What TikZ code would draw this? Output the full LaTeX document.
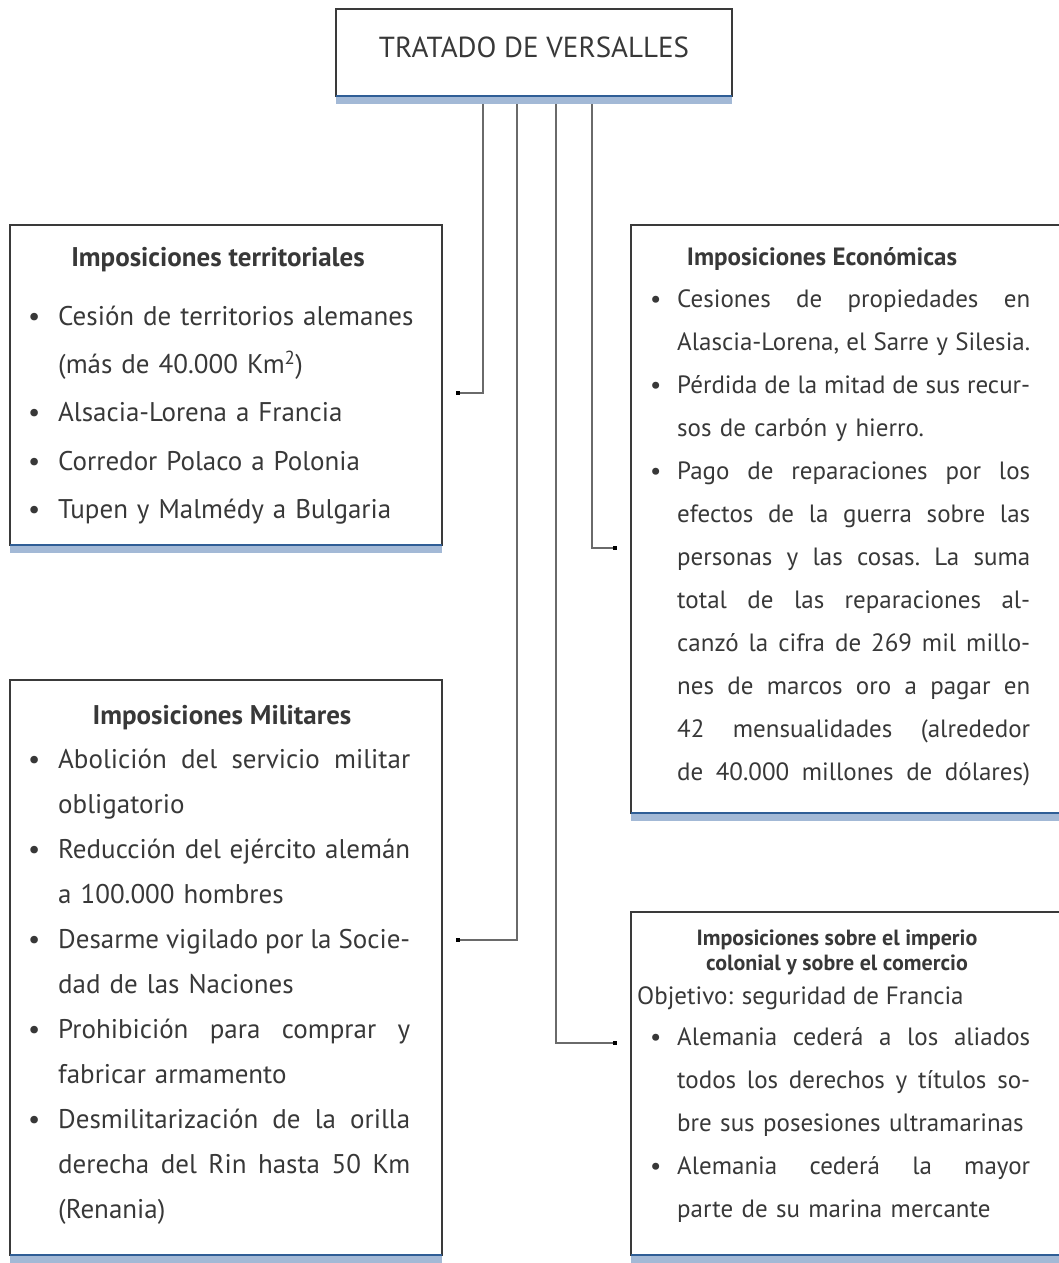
\documentclass[tikz,border=0pt]{standalone}
\usepackage{fontspec}
\setmainfont{PT Sans}
\usetikzlibrary{arrows.meta}
\definecolor{txt}{HTML}{383838}
\definecolor{edge}{HTML}{3A3A3A}
\definecolor{shade}{HTML}{A3B9D6}
\definecolor{bline}{HTML}{2F5E96}
\definecolor{conc}{HTML}{6A6A6A}
\newlength\bind
\newlength\cw
\newcommand\jsp{\spaceskip=\fontdimen2\font plus 1fil minus .12em\relax\xspaceskip=\spaceskip}
\newcommand\bj[1]{\hbox to\cw{\jsp\strut\makebox[\bind][l]{\textbullet}#1}}
\newcommand\bn[1]{\hbox to\cw{\strut\makebox[\bind][l]{\textbullet}#1\hfil}}
\newcommand\cj[1]{\hbox to\cw{\jsp\strut\hskip\bind #1}}
\newcommand\cn[1]{\hbox to\cw{\strut\hskip\bind #1\hfil}}
\newcommand\leftcol{\setlength\cw{382pt}\setlength\bind{30pt}\frenchspacing}
\newcommand\rightcol{\setlength\cw{380pt}\setlength\bind{27pt}\frenchspacing}
\tikzset{
  box/.style={draw=edge, line width=1.2pt, inner sep=0pt, outer sep=0pt, anchor=north west},
  shadeband/.style={fill=shade},
  bluerule/.style={draw=bline, line width=1.2pt},
  bodyT/.style={anchor=north west, inner sep=0pt, text=txt, text width=382pt, font={\fontsize{27}{48.3}\selectfont}},
  bodyM/.style={anchor=north west, inner sep=0pt, text=txt, text width=382pt, font={\fontsize{27}{45}\selectfont}},
  bodyR/.style={anchor=north west, inner sep=0pt, text=txt, text width=380pt, font={\fontsize{25}{43}\selectfont}},
  headL/.style={anchor=base, inner sep=0pt, text=txt, font={\fontsize{27}{30}\selectfont\bfseries}},
  headR/.style={anchor=base, inner sep=0pt, text=txt, font={\fontsize{25}{30}\selectfont\bfseries}},
  conn/.style={draw=conc, line width=1.2pt, -{Square[length=4pt,width=4pt,black]}}
}
\begin{document}
\begin{tikzpicture}[x=1pt,y=-1pt]
\useasboundingbox (0,0) rectangle (1059,1263);
\clip (0,0) rectangle (1059,1263);
% title
\node[box, minimum width=396pt, minimum height=87pt] (tbox) at (336,9) {};
\fill[shadeband] (tbox.south west) rectangle ++(396,8);
\draw[bluerule] (tbox.south west) -- (tbox.south east);
\node[anchor=base, inner sep=0pt, text=txt, font={\fontsize{29}{32}\selectfont}] (ttl) at (534,57) {TRATADO DE VERSALLES};
% boxes
\node[box, minimum width=432pt, minimum height=320pt] (terr) at (10,225) {};
\node[box, minimum width=440pt, minimum height=588pt] (econ) at (631,225) {};
\node[box, minimum width=432pt, minimum height=575pt] (mil) at (10,680) {};
\node[box, minimum width=440pt, minimum height=343pt] (col) at (631,912) {};
\foreach \b/\w in {terr/432, econ/440, mil/432, col/440}{
  \fill[shadeband] (\b.south west) rectangle ++(\w,8);
  \draw[bluerule] (\b.south west) -- (\b.south east);
}
% headings
\node[headL] (hterr) at (218,266) {Imposiciones territoriales};
\node[headR] (hecon) at (822,265) {Imposiciones Económicas};
\node[headL] (hmil) at (222,724) {Imposiciones Militares};
\node[headR, align=center, font={\fontsize{22}{25}\selectfont\bfseries}, anchor=center] (hcol) at (837,952) {Imposiciones sobre el imperio\\colonial y sobre el comercio};
% bodies
\node[bodyT] (tterr) at (28,291.2) {\leftcol
\bn{Cesión de territorios alemanes}
\cn{(más de 40.000 Km\textsuperscript{2})}
\bn{Alsacia-Lorena a Francia}
\bn{Corredor Polaco a Polonia}
\bn{Tupen y Malmédy a Bulgaria}};
\node[bodyR] (tecon) at (650,277.4) {\rightcol
\bj{Cesiones de propiedades en}
\cj{Alascia-Lorena, el Sarre y Silesia.}
\bj{Pérdida de la mitad de sus recur-}
\cn{sos de carbón y hierro.}
\bj{Pago de reparaciones por los}
\cj{efectos de la guerra sobre las}
\cj{personas y las cosas. La suma}
\cj{total de las reparaciones al-}
\cj{canzó la cifra de 269 mil millo-}
\cj{nes de marcos oro a pagar en}
\cj{42 mensualidades (alrededor}
\cj{de 40.000 millones de dólares)}};
\node[bodyM] (tmil) at (28,736.5) {\leftcol
\bj{Abolición del servicio militar}
\cn{obligatorio}
\bj{Reducción del ejército alemán}
\cn{a 100.000 hombres}
\bj{Desarme vigilado por la Socie-}
\cn{dad de las Naciones}
\bj{Prohibición para comprar y}
\cn{fabricar armamento}
\bj{Desmilitarización de la orilla}
\cj{derecha del Rin hasta 50 Km}
\cn{(Renania)}};
\node[anchor=base west, inner sep=0pt, text=txt, font={\fontsize{25}{43}\selectfont}] (obj) at (637,1004.5) {Objetivo: seguridad de Francia};
\node[bodyR] (tcol) at (650,1015.4) {\rightcol
\bj{Alemania cederá a los aliados}
\cj{todos los derechos y títulos so-}
\cn{bre sus posesiones ultramarinas}
\bj{Alemania cederá la mayor}
\cn{parte de su marina mercante}};
% connectors
\coordinate (e1) at (456,393);
\coordinate (e2) at (456,940);
\coordinate (e3) at (617,1043);
\coordinate (e4) at (617,548);
\draw[conn] ([xshift=147pt,yshift=-8pt]tbox.south west) |- (e1);
\draw[conn] ([xshift=181pt,yshift=-8pt]tbox.south west) |- (e2);
\draw[conn] ([xshift=220pt,yshift=-8pt]tbox.south west) |- (e3);
\draw[conn] ([xshift=256pt,yshift=-8pt]tbox.south west) |- (e4);
\end{tikzpicture}
\end{document}
